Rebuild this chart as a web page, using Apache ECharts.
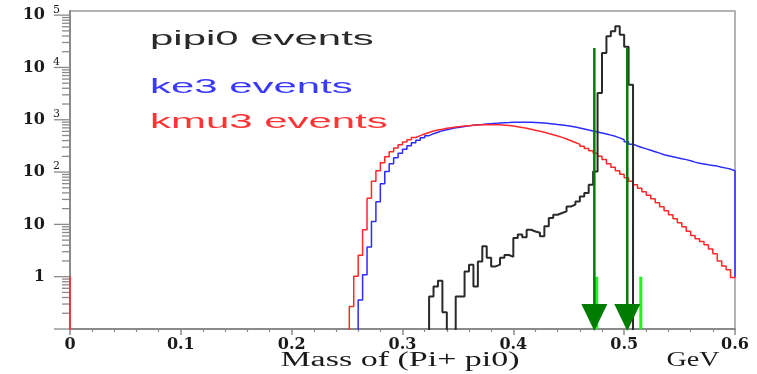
<!DOCTYPE html>
<html>
<head>
<meta charset="utf-8">
<script src="https://cdn.jsdelivr.net/npm/echarts@6.0.0/dist/echarts.min.js"></script>
<style>
  html, body { margin: 0; padding: 0; background: #fff; }
  #chart { width: 757px; height: 374px; }
</style>
</head>
<body>
<div id="chart"></div>
<script>
// ---------------- data ----------------
const X_MIN = 0, X_MAX = 0.6;
const Y_MIN = 0.1, Y_MAX = 1.2e5;
const BIN_WIDTH = 0.004;
const xTickLabels = ['0', '0.1', '0.2', '0.3', '0.4', '0.5', '0.6'];

// kmu3 events (red), first bin starts at 0.252
const kmu3Start = 0.252;
const kmu3Values = [
  0.27, 1.02, 2.58, 7.9, 31.7, 67, 106, 151, 197, 245,
  289, 334, 376, 416, 459, 497, 535, 572, 611, 638,
  661, 685, 706, 725, 741, 758, 771, 782, 792, 799,
  806, 806, 806, 799, 789, 774, 758, 738, 713, 688,
  661, 632, 605, 577, 547, 519, 490, 460, 430, 398,
  368, 339, 310, 282, 257, 230, 201, 173, 145, 124,
  106, 91, 78, 67, 57, 49, 42, 36, 31, 26,
  21.8, 18.3, 15.3, 12.8, 10.8, 9.0, 7.4, 6.1, 5.3, 4.7,
  4.1, 3.4, 2.75, 2.0, 1.6, 1.36, 0.96
];

// ke3 events (blue), first bin starts at 0.260
const ke3Start = 0.26;
const ke3Values = [
  0.36, 1.09, 3.7, 11.3, 27, 60, 102, 145, 188, 230,
  274, 320, 365, 407, 455, 497, 542, 579, 619, 647,
  676, 700, 722, 745, 764, 782, 799, 813, 828, 842,
  853, 865, 877, 884, 892, 896, 900, 900, 896, 888,
  877, 865, 850, 831, 813, 796, 774, 755, 728, 697,
  667, 638, 611, 585, 560, 535, 508, 482, 450, 415,
  378, 342, 316, 295, 278, 261, 245, 230, 215, 206,
  197, 188, 180, 173, 165, 155, 148, 143, 138, 134,
  130, 124, 119, 114, 106
];

// pipi0 events (black), first bin starts at 0.324
const pipi0Start = 0.324;
const pipi0Values = [
  0.42, 0.65, 0.84, 0.21, 0, 0, 0.42, 0.42, 1.26, 1.7,
  0.65, 1.96, 3.8, 2.3, 1.57, 1.7, 2.3, 2.6, 2.4, 5.5,
  6.4, 5.7, 7.9, 7.3, 6.9, 5.9, 9.2, 13.3, 15.3, 16.5,
  17.7, 22, 23.8, 27.5, 34.3, 40, 57, 102, 3250, 18900,
  39300, 49000, 61100, 42400, 25000, 4690
];

// kmu3 content drawn at the very left edge (x = 0)
const kmu3EdgeX = 0;
const kmu3EdgeValue = 1;
// level down to which the histograms close at the right frame edge (x = 0.6)
const rightEdgeLevel = 1;

// cut arrows (dark green) and markers (light green)
const arrowX = [0.4731, 0.5028];
const arrowTop = 23600;
const limeX = [0.4752, 0.515];
const limeTop = 1;

const legendTexts = ['pipi0 events', 'ke3 events', 'kmu3 events'];
const xTitle = 'Mass of (Pi+ pi0)';
const xUnit = 'GeV';

// ---------------- helpers ----------------
const FLOOR = 1e-3; // empty bins: drawn below the visible range (clipped)
function histPoints(start, width, values, endLevel) {
  const pts = [[start, FLOOR]];
  for (let i = 0; i < values.length; i++) {
    const x0 = +(start + i * width).toFixed(6);
    const x1 = +(start + (i + 1) * width).toFixed(6);
    const v = values[i] > 0 ? values[i] : FLOOR;
    pts.push([x0, v], [x1, v]);
  }
  pts.push([+(start + values.length * width).toFixed(6), endLevel]);
  return pts;
}

const yTicks = [];
for (let e = -1; e <= 5; e++) {
  for (let m = 1; m <= 9; m++) {
    const v = m * Math.pow(10, e);
    if (v <= Y_MAX * 1.0001) yTicks.push([X_MIN, v, m === 1 ? 1 : 0]);
  }
}

const SERIF = '"DejaVu Serif", "Liberation Serif", serif';
const AXIS_GRAY = '#8a8a8a';

function lineSeries(name, data, color, width) {
  return {
    name, type: 'line', data, showSymbol: false, symbol: 'none',
    lineStyle: { color, width }, clip: true, silent: true, z: 3
  };
}

const chart = echarts.init(document.getElementById('chart'), null, { renderer: 'canvas' });

const option = {
  animation: false,
  backgroundColor: '#ffffff',
  grid: {
    left: 70, right: 22, top: 11, bottom: 45,
    show: true, borderColor: '#9a9a9a', borderWidth: 1.5, backgroundColor: 'transparent'
  },
  xAxis: {
    type: 'value', min: X_MIN, max: X_MAX, interval: 0.1,
    axisLine: { show: true, onZero: false, lineStyle: { color: AXIS_GRAY, width: 2 } },
    axisTick: { show: true, length: 6, lineStyle: { color: AXIS_GRAY, width: 1.5 } },
    minorTick: { show: true, splitNumber: 5, length: 3, lineStyle: { color: AXIS_GRAY, width: 1.2 } },
    splitLine: { show: false },
    axisLabel: {
      margin: 8, fontFamily: SERIF, fontWeight: 'bold', fontSize: 16, color: '#1a1a1a',
      formatter: (v) => xTickLabels[Math.round(v * 10)] || ''
    }
  },
  yAxis: {
    type: 'log', logBase: 10, min: Y_MIN, max: Y_MAX,
    axisLine: { show: true, lineStyle: { color: AXIS_GRAY, width: 2 } },
    axisTick: { show: false },
    minorTick: { show: false },
    splitLine: { show: false },
    axisLabel: {
      margin: 10,
      formatter: (v) => {
        const l = Math.log10(v);
        const e = Math.round(l);
        if (Math.abs(l - e) > 0.01 || e < 0) return '';
        if (e === 0) return '{b|1}{sp| }';
        if (e === 1) return '{b|10}{sp| }';
        return '{b|10}{g| }{s|' + e + '}';
      },
      rich: {
        b: { fontFamily: SERIF, fontWeight: 'bold', fontSize: 16, color: '#1a1a1a', lineHeight: 22 },
        g: { width: 8, fontSize: 10 },
        s: { fontFamily: SERIF, fontSize: 11, color: '#1a1a1a', lineHeight: 11, verticalAlign: 'top' },
        sp: { width: 15, fontSize: 10 }
      }
    }
  },
  graphic: [
    { type: 'text', x: 150, y: 39.5, scaleX: 2.15, z: 10,
      style: { text: legendTexts[0], font: '19.5px "Liberation Sans", Arial, sans-serif', fill: '#2a2a2a', verticalAlign: 'middle', align: 'left' } },
    { type: 'text', x: 150, y: 88, scaleX: 2.15, z: 10,
      style: { text: legendTexts[1], font: '19.5px "Liberation Sans", Arial, sans-serif', fill: '#3a3aff', verticalAlign: 'middle', align: 'left' } },
    { type: 'text', x: 150, y: 123, scaleX: 2.15, z: 10,
      style: { text: legendTexts[2], font: '19.5px "Liberation Sans", Arial, sans-serif', fill: '#ff3535', verticalAlign: 'middle', align: 'left' } },
    { type: 'text', x: 400, y: 361, scaleX: 1.7, z: 10,
      style: { text: xTitle, font: '20px "Liberation Serif", "Times New Roman", serif', fill: '#1a1a1a', verticalAlign: 'middle', align: 'center' } },
    { type: 'text', x: 693, y: 361, scaleX: 1.4, z: 10,
      style: { text: xUnit, font: '20px "Liberation Serif", "Times New Roman", serif', fill: '#1a1a1a', verticalAlign: 'middle', align: 'center' } }
  ],
  series: [
    lineSeries('ke3 events', histPoints(ke3Start, BIN_WIDTH, ke3Values, rightEdgeLevel), '#2c2cff', 1.5),
    lineSeries('kmu3 events', histPoints(kmu3Start, BIN_WIDTH, kmu3Values, rightEdgeLevel), '#ff2828', 1.5),
    lineSeries('pipi0 events', histPoints(pipi0Start, BIN_WIDTH, pipi0Values, FLOOR), '#2a2a2a', 2),
    lineSeries('kmu3 edge', [[kmu3EdgeX, FLOOR], [kmu3EdgeX, kmu3EdgeValue]], '#ff2828', 1.6),
    {
      name: 'markers', type: 'custom', silent: true, clip: false, z: 5,
      data: limeX.map((x) => [x, limeTop]),
      renderItem: (params, api) => {
        const x = api.value(0);
        const top = api.coord([x, api.value(1)]);
        const bot = api.coord([x, Y_MIN]);
        return { type: 'line', shape: { x1: top[0], y1: top[1], x2: bot[0], y2: bot[1] },
                 style: { stroke: '#22f022', lineWidth: 3 } };
      }
    },
    {
      name: 'cuts', type: 'custom', silent: true, clip: false, z: 6,
      data: arrowX.map((x) => [x, arrowTop]),
      renderItem: (params, api) => {
        const x = api.value(0);
        const top = api.coord([x, api.value(1)]);
        const bot = api.coord([x, Y_MIN]);
        const head = 25, half = 13;
        return {
          type: 'group',
          children: [
            { type: 'line', shape: { x1: top[0], y1: top[1], x2: bot[0], y2: bot[1] - head },
              style: { stroke: '#007d00', lineWidth: 2.5 } },
            { type: 'polygon', shape: { points: [[bot[0] - half, bot[1] - head], [bot[0] + half, bot[1] - head], [bot[0], bot[1] + 2]] },
              style: { fill: '#007d00' } }
          ]
        };
      }
    },
    {
      name: 'y ticks', type: 'custom', silent: true, clip: false, z: 1,
      data: yTicks,
      renderItem: (params, api) => {
        const p = api.coord([api.value(0), api.value(1)]);
        const len = api.value(2) ? 16 : 8;
        return { type: 'line', shape: { x1: p[0] - len, y1: p[1], x2: p[0], y2: p[1] },
                 style: { stroke: AXIS_GRAY, lineWidth: 1.3 } };
      }
    }
  ]
};
chart.setOption(option);
</script>
</body>
</html>
